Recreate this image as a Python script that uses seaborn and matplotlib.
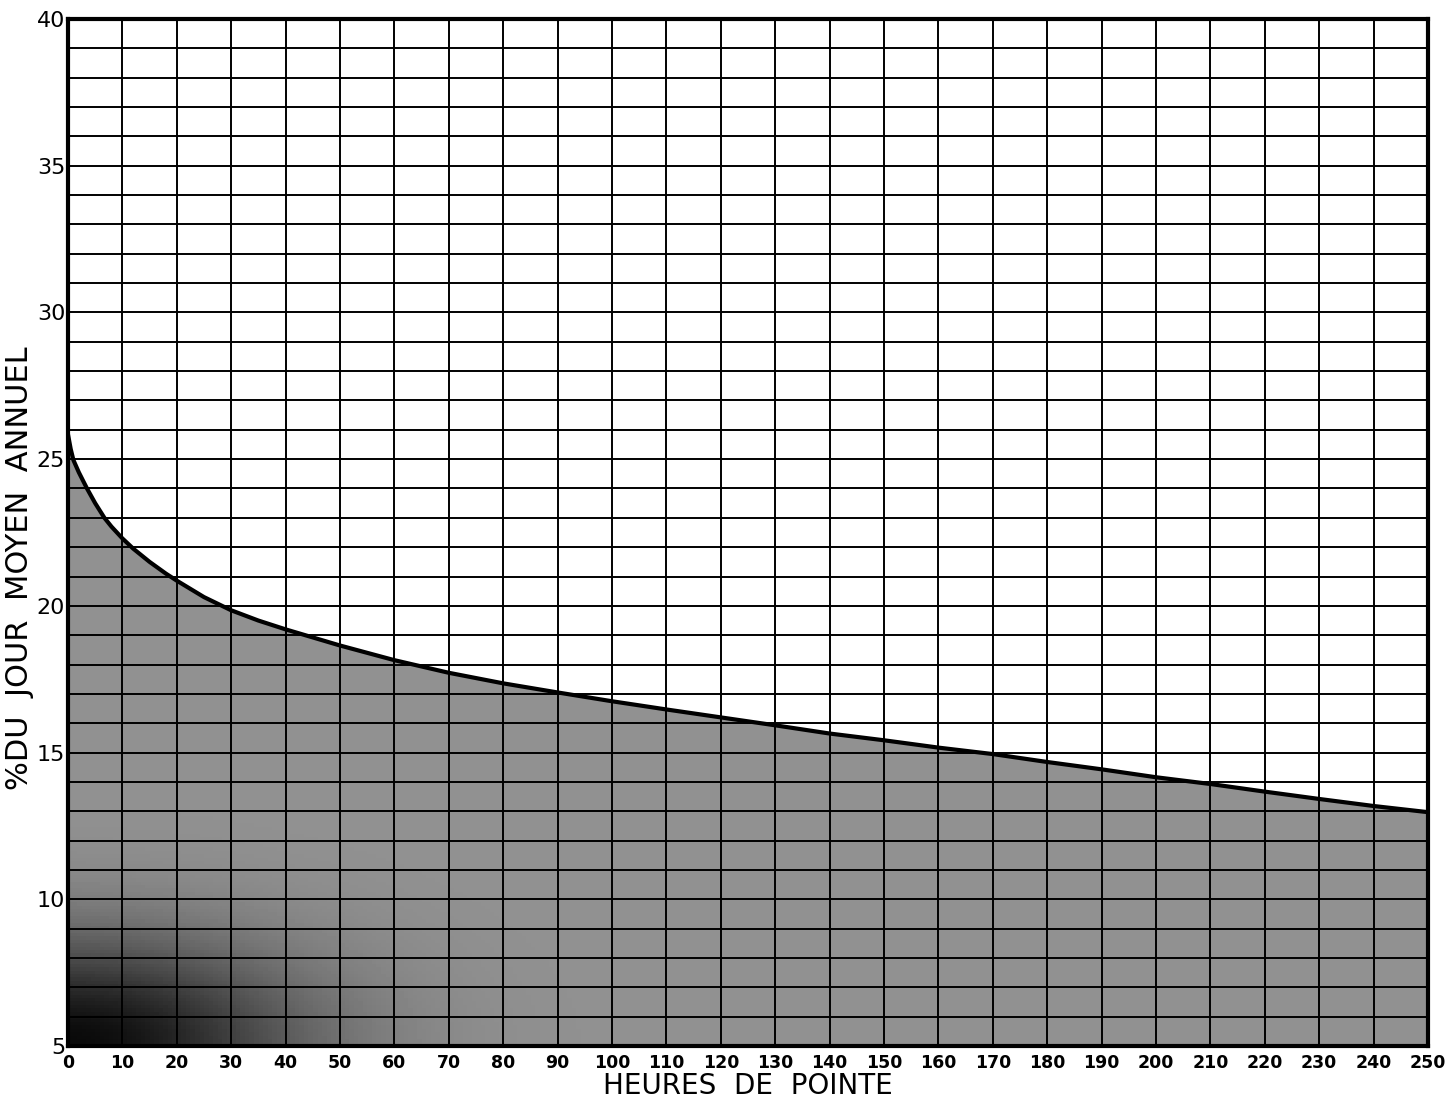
import numpy as np
import pandas as pd
import matplotlib
matplotlib.use("Agg")
import matplotlib.pyplot as plt
import seaborn as sns

# heures de pointe vs % du jour moyen annuel
heures = [0, 0.5, 1, 2, 3.5, 5, 6.7, 8, 10, 12, 15, 18, 20, 25, 30, 35, 40, 50, 60,
          70, 80, 90, 100, 110, 120, 130, 140, 150, 160, 170, 180, 190, 200, 210,
          220, 230, 240, 250]
pourcent = [25.85, 25.35, 24.97, 24.55, 24.0, 23.5, 23.0, 22.7, 22.3, 21.95, 21.5,
            21.1, 20.86, 20.3, 19.85, 19.5, 19.2, 18.65, 18.15, 17.72, 17.36, 17.05,
            16.75, 16.47, 16.2, 15.93, 15.65, 15.42, 15.17, 14.95, 14.68, 14.43,
            14.16, 13.93, 13.67, 13.42, 13.18, 12.97]
x_ticks = list(range(0, 251, 10))
y_ticks = [5, 10, 15, 20, 25, 30, 35, 40]

df = pd.DataFrame({"heures": heures, "pourcent": pourcent})

sns.set_style("white")
plt.rcParams['font.family'] = ['DejaVu Sans']
plt.rcParams['text.color'] = 'black'
plt.rcParams['axes.labelcolor'] = 'black'
plt.rcParams['xtick.color'] = 'black'
plt.rcParams['ytick.color'] = 'black'

fig = plt.figure(figsize=(14.49, 11.04), dpi=100)
ax = fig.add_axes([0.0469, 0.0525, 0.9386, 0.9303])

# shaded area under the curve, darker towards the lower left corner
fill = ax.fill_between(df["heures"], 5, df["pourcent"], color="#929292", lw=0, zorder=1)
gx, gy = np.meshgrid(np.linspace(0, 250, 300), np.linspace(5, 40, 300))
shade = 0.57 - 0.53 * np.exp(-((gx / 42) ** 2 + ((gy - 5) / 3.6) ** 2))
img = ax.imshow(shade, extent=[0, 250, 5, 40], origin="lower", cmap="gray",
                vmin=0, vmax=1, aspect="auto", zorder=1.5)
img.set_clip_path(fill.get_paths()[0], transform=ax.transData)

sns.lineplot(data=df, x="heures", y="pourcent", color="black", lw=3, ax=ax, zorder=4)

ax.set_xlim(0, 250)
ax.set_ylim(5, 40)
ax.set_xticks(x_ticks)
ax.set_yticks(y_ticks)
ax.set_yticks(range(5, 41), minor=True)
ax.grid(which="both", color="black", lw=1.4, zorder=3)
ax.set_axisbelow(False)
ax.tick_params(which="both", length=0)
ax.tick_params(axis="x", labelsize=12.5, pad=6)
ax.tick_params(axis="y", labelsize=16, pad=2)
for lab in ax.get_xticklabels():
    lab.set_fontweight("bold")
for s in ax.spines.values():
    s.set_linewidth(3)
    s.set_color("black")
    s.set_zorder(5)

ax.set_xlabel("HEURES  DE  POINTE", fontsize=20, labelpad=0)
ax.set_ylabel("%DU  JOUR  MOYEN  ANNUEL", fontsize=22, labelpad=8)
ax.yaxis.set_label_coords(-0.025, 0.465)

fig.savefig("out.png", dpi=100)
